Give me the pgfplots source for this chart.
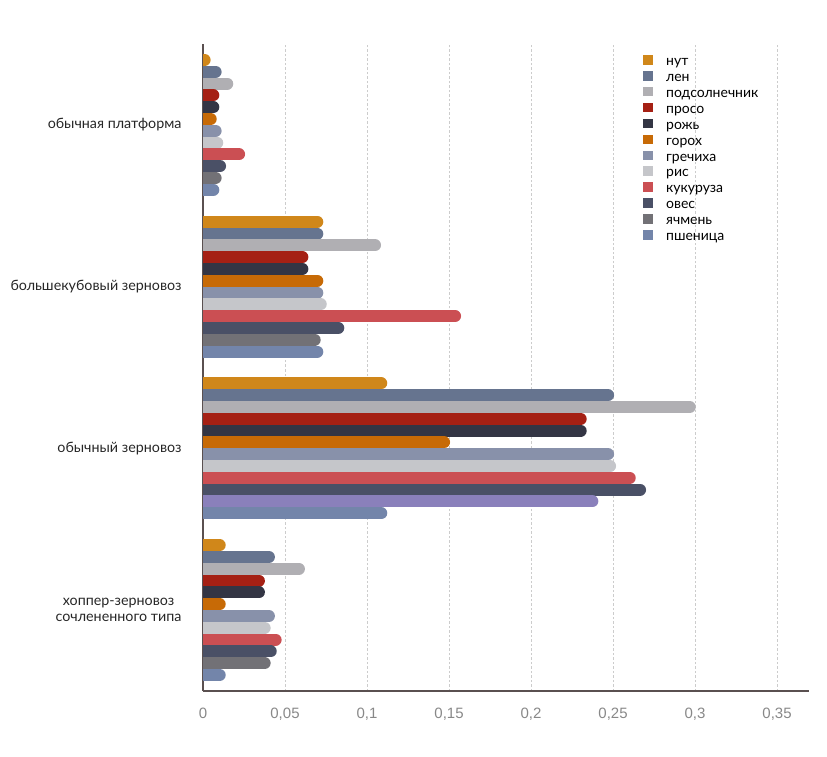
\documentclass[border=0pt]{standalone}
\usepackage{pgfplots}
\pgfplotsset{compat=1.18}
\usepackage{fontspec}
\setmainfont{Lato}
\newfontfamily\tickfont{Liberation Sans}
\definecolor{cNut}{HTML}{D0871A}
\definecolor{cLen}{HTML}{66748F}
\definecolor{cPods}{HTML}{B0AFB3}
\definecolor{cProso}{HTML}{A52014}
\definecolor{cRozh}{HTML}{333544}
\definecolor{cGoroh}{HTML}{C76A06}
\definecolor{cGrech}{HTML}{8891AA}
\definecolor{cRis}{HTML}{C5C6CA}
\definecolor{cKuk}{HTML}{CB4F53}
\definecolor{cOves}{HTML}{4A5066}
\definecolor{cYach}{HTML}{727176}
\definecolor{cPsh}{HTML}{7385AA}
\definecolor{cPurple}{HTML}{8A80BB}
\definecolor{tickgray}{HTML}{888888}
\definecolor{axisline}{HTML}{5A5050}
\pgfplotsset{
  rbar/.style={xcomb, draw=#1, line width=12pt, line cap=round, forget plot},
}
\begin{document}
\begin{tikzpicture}
\path[use as bounding box] (0,0) rectangle (827pt,756pt);
\begin{axis}[
  at={(203pt,65pt)}, anchor=south west,
  scale only axis, width=606pt, height=647pt,
  xmin=0, xmax=0.3695, ymin=-0.5, ymax=3.5,
  axis x line*=bottom, axis y line*=left,
  axis line style={-, draw=axisline, line width=1.6pt},
  xtick={0,0.05,0.1,0.15,0.2,0.25,0.3,0.35},
  xticklabels={0,{0,05},{0,1},{0,15},{0,2},{0,25},{0,3},{0,35}},
  ytick={0,1,2,3},
  yticklabels={{хоппер-зерновоз\\сочлененного типа},{обычный зерновоз},{большекубовый зерновоз},{обычная платформа}},
  major tick length=0pt,
  tick style={draw=none},
  xmajorgrids,
  major grid style={dash pattern=on 2.5pt off 2pt, draw=black!20, line width=0.9pt},
  xticklabel style={font=\tickfont\fontsize{15}{17}\selectfont, text=tickgray, yshift=-13pt},
  yticklabel style={font=\fontsize{14.3}{16}\selectfont, text=black!85, align=center, xshift=-18pt},
  legend style={draw=none, fill=none, at={(0.726,0.983)}, anchor=north west,
    font=\fontsize{14}{15}\selectfont, inner sep=0pt, row sep=1.4pt,
    nodes={inner sep=1pt, text height=9pt, text depth=3pt}},
  legend cell align=left,
  legend image code/.code={\fill[#1, draw=none] (0pt,-2pt) rectangle (9.5pt,7.5pt); \path[draw=none, fill=none] (0pt,0pt) -- (22pt,0pt);},
]
% series: (value, group)  groups: 3 = обычная платформа, 2 = большекубовый, 1 = обычный зерновоз, 0 = хоппер
\addplot[rbar=cNut,   yshift=64.9pt]  coordinates {(0.001,3) (0.0697,2) (0.1087,1) (0.0102,0)};
\addplot[rbar=cLen,   yshift=53.1pt]  coordinates {(0.0077,3) (0.0697,2) (0.2470,1) (0.0402,0)};
\addplot[rbar=cPods,  yshift=41.3pt]  coordinates {(0.0148,3) (0.1049,2) (0.2968,1) (0.0585,0)};
\addplot[rbar=cProso, yshift=29.5pt]  coordinates {(0.0063,3) (0.0606,2) (0.2303,1) (0.0341,0)};
\addplot[rbar=cRozh,  yshift=17.7pt]  coordinates {(0.0063,3) (0.0606,2) (0.2303,1) (0.0341,0)};
\addplot[rbar=cGoroh, yshift=5.9pt]   coordinates {(0.0047,3) (0.0697,2) (0.1470,1) (0.0102,0)};
\addplot[rbar=cGrech, yshift=-5.9pt]  coordinates {(0.0077,3) (0.0697,2) (0.2470,1) (0.0402,0)};
\addplot[rbar=cRis,   yshift=-17.7pt] coordinates {(0.0087,3) (0.0718,2) (0.2482,1) (0.0376,0)};
\addplot[rbar=cKuk,   yshift=-29.5pt] coordinates {(0.0220,3) (0.1537,2) (0.2602,1) (0.0443,0)};
\addplot[rbar=cOves,  yshift=-41.3pt] coordinates {(0.0104,3) (0.0825,2) (0.2665,1) (0.0413,0)};
\addplot[rbar=cYach,  yshift=-53.1pt] coordinates {(0.0077,3) (0.0681,2) (0.0376,0)};
\addplot[rbar=cPurple,yshift=-53.1pt] coordinates {(0.2374,1)};
\addplot[rbar=cPsh,   yshift=-64.9pt] coordinates {(0.0063,3) (0.0697,2) (0.1087,1) (0.0102,0)};
\addlegendimage{fill=cNut}\addlegendentry{нут}
\addlegendimage{fill=cLen}\addlegendentry{лен}
\addlegendimage{fill=cPods}\addlegendentry{подсолнечник}
\addlegendimage{fill=cProso}\addlegendentry{просо}
\addlegendimage{fill=cRozh}\addlegendentry{рожь}
\addlegendimage{fill=cGoroh}\addlegendentry{горох}
\addlegendimage{fill=cGrech}\addlegendentry{гречиха}
\addlegendimage{fill=cRis}\addlegendentry{рис}
\addlegendimage{fill=cKuk}\addlegendentry{кукуруза}
\addlegendimage{fill=cOves}\addlegendentry{овес}
\addlegendimage{fill=cYach}\addlegendentry{ячмень}
\addlegendimage{fill=cPsh}\addlegendentry{пшеница}
\end{axis}
\end{tikzpicture}
\end{document}
